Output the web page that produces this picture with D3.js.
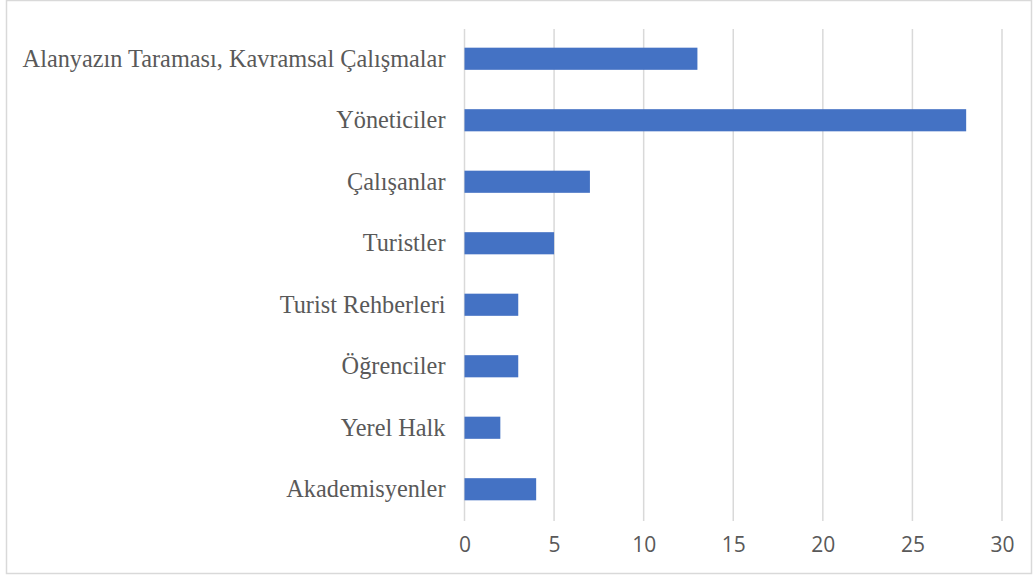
<!DOCTYPE html>
<html><head><meta charset="utf-8">
<script src="https://cdn.jsdelivr.net/npm/d3@7"></script>
<style>body{margin:0;background:#fff}svg{display:block}</style>
</head><body>
<svg id="c" width="1033" height="578"></svg>
<script>
const categories = ["Alanyazın Taraması, Kavramsal Çalışmalar","Yöneticiler","Çalışanlar","Turistler","Turist Rehberleri","Öğrenciler","Yerel Halk","Akademisyenler"];
const values = [13,28,7,5,3,3,2,4];
const tickValues = [0,5,10,15,20,25,30];

const svg = d3.select("#c");
svg.append("rect").attr("x",6.5).attr("y",0.5).attr("width",1025).attr("height",573)
  .attr("fill","#fff").attr("stroke","#d9d9d9").attr("stroke-width",1.5);

const x = d3.scaleLinear().domain([0,30]).range([464.5,1002]);
const y = d3.scaleBand().domain(categories).range([28,520]).paddingInner(0.64).paddingOuter(0.32);

const xAxis = d3.axisBottom(x).tickValues(tickValues).tickSize(0).tickPadding(0);
const gx = svg.append("g").attr("transform","translate(0,521)").call(xAxis);
gx.select(".domain").remove();
gx.selectAll("text").attr("y",31).attr("dy","0").attr("font-family","'Open Sans', sans-serif")
  .attr("font-size",21).attr("fill","#595959");

const grid = svg.append("g");
grid.selectAll("line").data(tickValues).join("line")
  .attr("x1",d=>x(d)).attr("x2",d=>x(d)).attr("y1",29).attr("y2",521)
  .attr("stroke","#d9d9d9").attr("stroke-width",1.5);

svg.append("g").selectAll("rect").data(values).join("rect")
  .attr("x",x(0)).attr("y",(d,i)=>y(categories[i]))
  .attr("width",d=>x(d)-x(0)).attr("height",y.bandwidth()).attr("fill","#4472C4");

const yAxis = d3.axisLeft(y).tickSize(0).tickPadding(19);
const gy = svg.append("g").attr("transform","translate(464.5,0)").call(yAxis);
gy.select(".domain").remove();
gy.selectAll("text").attr("font-family","'Liberation Serif', 'Times New Roman', serif")
  .attr("font-size",24.3).attr("fill","#595959");
</script>
</body></html>
